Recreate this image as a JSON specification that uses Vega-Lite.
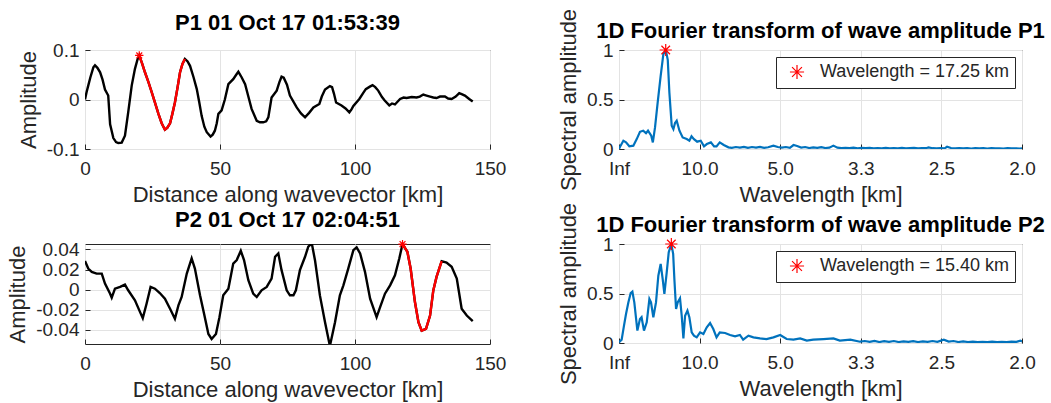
{
  "$schema": "https://vega.github.io/schema/vega-lite/v6.json",
  "background": "white",
  "padding": {"left": 6, "top": 7, "right": 5, "bottom": 5},
  "bounds": "flush",
  "columns": 2,
  "spacing": {"row": 95, "column": 129},
  "resolve": {"scale": {"color": "independent"}, "legend": {"color": "independent"}},
  "datasets": {
    "p1": [
      {"d":0,"a":0},{"d":0.6,"a":0.015},{"d":1.2,"a":0.028},{"d":2.0,"a":0.045},{"d":3.1,"a":0.065},{"d":3.7,"a":0.069},{"d":4.6,"a":0.064},{"d":5.6,"a":0.055},{"d":6.5,"a":0.04},{"d":7.4,"a":0.02},{"d":8.6,"a":0.008},{"d":9.3,"a":-0.05},{"d":10.5,"a":-0.078},{"d":11.5,"a":-0.086},{"d":12.3,"a":-0.088},{"d":13.6,"a":-0.087},{"d":14.8,"a":-0.073},{"d":16.0,"a":-0.026},{"d":17.3,"a":0.028},{"d":18.5,"a":0.062},{"d":19.4,"a":0.08},
      {"d":20.1,"a":0.089,"r":1},{"d":21.2,"a":0.072,"r":1},{"d":22.2,"a":0.055,"r":1},{"d":23.5,"a":0.035,"r":1},{"d":24.7,"a":0.015,"r":1},{"d":26.0,"a":-0.008,"r":1},{"d":27.2,"a":-0.029,"r":1},{"d":28.4,"a":-0.048,"r":1},{"d":29.6,"a":-0.061,"r":1},{"d":30.5,"a":-0.057,"r":1},{"d":31.5,"a":-0.048,"r":1},{"d":32.4,"a":-0.028,"r":1},{"d":33.3,"a":-0.006,"r":1},{"d":34.3,"a":0.025,"r":1},{"d":35.2,"a":0.055,"r":1},{"d":36.1,"a":0.072,"r":1},{"d":37.0,"a":0.082,"r":1},
      {"d":38.0,"a":0.077},{"d":38.9,"a":0.068},{"d":40.2,"a":0.045},{"d":41.4,"a":0.021},{"d":42.3,"a":-0.005},{"d":43.2,"a":-0.033},{"d":44.2,"a":-0.055},{"d":45.1,"a":-0.066},{"d":46.5,"a":-0.075},{"d":47.3,"a":-0.071},{"d":48.1,"a":-0.063},{"d":48.8,"a":-0.048},{"d":49.4,"a":-0.029},{"d":50.6,"a":-0.022},{"d":51.8,"a":0.0},{"d":53.1,"a":0.031},{"d":54.9,"a":0.041},{"d":56.0,"a":0.05},{"d":56.8,"a":0.056},{"d":58.0,"a":0.045},{"d":59.3,"a":0.031},{"d":60.5,"a":0.006},{"d":61.7,"a":-0.019},{"d":63.6,"a":-0.043},{"d":64.8,"a":-0.046},{"d":66.0,"a":-0.046},{"d":67.1,"a":-0.044},{"d":67.9,"a":-0.036},{"d":69.1,"a":0.004},{"d":71.0,"a":0.018},{"d":72.0,"a":0.035},{"d":72.8,"a":0.046},{"d":73.6,"a":0.044},{"d":74.8,"a":0.03},{"d":75.9,"a":0.008},{"d":78.4,"a":-0.016},{"d":80.0,"a":-0.028},{"d":81.5,"a":-0.036},{"d":83.0,"a":-0.027},{"d":84.6,"a":-0.016},{"d":86.8,"a":-0.009},{"d":87.7,"a":0.006},{"d":88.9,"a":0.02},{"d":90.7,"a":0.027},{"d":91.5,"a":0.025},{"d":92.2,"a":0.012},{"d":93,"a":-0.006},{"d":95,"a":-0.012},{"d":96.5,"a":-0.018},{"d":97.9,"a":-0.026},{"d":98.7,"a":-0.02},{"d":99.4,"a":-0.013},{"d":101.6,"a":0.001},{"d":103,"a":0.013},{"d":104,"a":0.021},{"d":105.5,"a":0.026},{"d":106.5,"a":0.029},{"d":107.5,"a":0.025},{"d":108.6,"a":0.018},{"d":110,"a":0.005},{"d":111,"a":-0.002},{"d":112.7,"a":-0.012},{"d":113.7,"a":-0.008},{"d":114.8,"a":-0.01},{"d":116.7,"a":0.001},{"d":118,"a":0.004},{"d":119.1,"a":0.003},{"d":121,"a":0.005},{"d":122.8,"a":0.004},{"d":124,"a":0.006},{"d":125.3,"a":0.01},{"d":126.5,"a":0.008},{"d":127.8,"a":0.006},{"d":129,"a":0.004},{"d":130.2,"a":0.003},{"d":131.5,"a":0.006},{"d":133.3,"a":0.006},{"d":134.5,"a":0.002},{"d":135.8,"a":0.001},{"d":137.3,"a":0.006},{"d":138.6,"a":0.013},{"d":139.5,"a":0.011},{"d":140.7,"a":0.008},{"d":142.3,"a":0.001},{"d":143.6,"a":-0.004}
    ],
    "p2": [
      {"d":0,"a":0.0285},{"d":1.2,"a":0.021},{"d":2.5,"a":0.0177},{"d":4.3,"a":0.016},{"d":6.2,"a":0.016},{"d":7.4,"a":0.006},{"d":9.3,"a":-0.004},{"d":9.9,"a":-0.008},{"d":11.1,"a":0.001},{"d":13,"a":0.0027},{"d":14.8,"a":0.005},{"d":16.0,"a":-0.0006},{"d":18.5,"a":-0.0106},{"d":20.4,"a":-0.0223},{"d":21.4,"a":-0.0283},{"d":22.8,"a":-0.014},{"d":24.3,"a":0.0027},{"d":25.9,"a":0.001},{"d":27.7,"a":-0.0033},{"d":29.6,"a":-0.009},{"d":31.5,"a":-0.019},{"d":33.3,"a":-0.029},{"d":34.6,"a":-0.0156},{"d":35.8,"a":-0.0073},{"d":37.7,"a":0.016},{"d":39.5,"a":0.031},{"d":40.7,"a":0.021},{"d":42.6,"a":-0.0056},{"d":44.1,"a":-0.024},{"d":45.7,"a":-0.044},{"d":46.9,"a":-0.049},{"d":48.5,"a":-0.044},{"d":49.8,"a":-0.0273},{"d":51.2,"a":-0.0056},{"d":53.1,"a":0.001},{"d":54.9,"a":0.026},{"d":56.2,"a":0.0294},{"d":57.7,"a":0.0387},{"d":58.9,"a":0.0294},{"d":60.5,"a":0.0094},{"d":62.3,"a":-0.004},{"d":63.6,"a":-0.0073},{"d":65.4,"a":-0.0006},{"d":67.3,"a":0.0027},{"d":69.1,"a":0.011},{"d":70.4,"a":0.0327},{"d":71.6,"a":0.036},{"d":72.8,"a":0.0194},{"d":74.7,"a":-0.0006},{"d":75.9,"a":-0.0056},{"d":77.2,"a":-0.0056},{"d":78.1,"a":-0.0006},{"d":79.6,"a":0.0194},{"d":81.5,"a":0.0327},{"d":82.7,"a":0.0427},{"d":84.0,"a":0.046},{"d":85.2,"a":0.029},{"d":87,"a":-0.0057},{"d":88.9,"a":-0.0323},{"d":90.7,"a":-0.056},{"d":92.6,"a":-0.0323},{"d":94.4,"a":-0.0057},{"d":95.7,"a":0.0043},{"d":97.5,"a":0.021},{"d":99.4,"a":0.0393},{"d":100.6,"a":0.042},{"d":101.9,"a":0.036},{"d":103.7,"a":0.0177},{"d":105.6,"a":-0.009},{"d":108,"a":-0.0273},{"d":109.3,"a":-0.0173},{"d":111.1,"a":-0.004},{"d":113,"a":0.0043},{"d":114.8,"a":0.0143},{"d":116.4,"a":0.031},
      {"d":117.6,"a":0.0453,"r":1},{"d":119.4,"a":0.0377,"r":1},{"d":120.6,"a":0.021,"r":1},{"d":122.2,"a":-0.0123,"r":1},{"d":123.5,"a":-0.0323,"r":1},{"d":124.7,"a":-0.0407,"r":1},{"d":126.3,"a":-0.039,"r":1},{"d":127.8,"a":-0.0257,"r":1},{"d":129,"a":-0.0007,"r":1},{"d":130.2,"a":0.0127,"r":1},{"d":132.1,"a":0.0283,"r":1},
      {"d":133.9,"a":0.027},{"d":135.8,"a":0.0227},{"d":137.7,"a":0.011},{"d":139.5,"a":-0.019},{"d":141.4,"a":-0.0257},{"d":143.6,"a":-0.0313}
    ],
    "s1": [
      {"f":0,"a":0},{"f":0.002,"a":0.034},{"f":0.0054,"a":0.084},{"f":0.0087,"a":0.067},{"f":0.0128,"a":0.027},{"f":0.0178,"a":0.034},{"f":0.022,"a":0.1},{"f":0.026,"a":0.174},{"f":0.03,"a":0.185},{"f":0.0335,"a":0.16},{"f":0.036,"a":0.185},{"f":0.04,"a":0.134},{"f":0.042,"a":0.067},{"f":0.0447,"a":0.218},{"f":0.048,"a":0.47},{"f":0.0517,"a":0.738},{"f":0.055,"a":0.956},{"f":0.058,"a":1.0},{"f":0.0605,"a":0.9},{"f":0.0625,"a":0.57},{"f":0.0654,"a":0.235},{"f":0.0675,"a":0.2},{"f":0.0695,"a":0.262},{"f":0.0716,"a":0.285},{"f":0.075,"a":0.185},{"f":0.079,"a":0.117},{"f":0.084,"a":0.1},{"f":0.0873,"a":0.084},{"f":0.09,"a":0.128},{"f":0.093,"a":0.1},{"f":0.097,"a":0.074},{"f":0.1014,"a":0.084},{"f":0.1055,"a":0.027},{"f":0.109,"a":0.05},{"f":0.114,"a":0.067},{"f":0.118,"a":0.027},{"f":0.121,"a":0.027},{"f":0.125,"a":0.067},{"f":0.13,"a":0.04},{"f":0.1358,"a":0.017},
      {"f":0.14,"a":0.012},{"f":0.145,"a":0.02},{"f":0.15,"a":0.015},{"f":0.155,"a":0.022},{"f":0.16,"a":0.012},{"f":0.165,"a":0.02},{"f":0.17,"a":0.014},{"f":0.175,"a":0.022},{"f":0.18,"a":0.012},{"f":0.185,"a":0.018},{"f":0.1916,"a":0.034},{"f":0.197,"a":0.02},{"f":0.202,"a":0.014},{"f":0.207,"a":0.02},{"f":0.212,"a":0.012},{"f":0.2165,"a":0.04},{"f":0.221,"a":0.03},{"f":0.226,"a":0.015},{"f":0.231,"a":0.02},{"f":0.236,"a":0.01},{"f":0.241,"a":0.016},{"f":0.246,"a":0.012},{"f":0.251,"a":0.018},{"f":0.256,"a":0.01},{"f":0.261,"a":0.014},{"f":0.266,"a":0.034},{"f":0.271,"a":0.014},{"f":0.276,"a":0.008},{"f":0.281,"a":0.012},{"f":0.286,"a":0.008},{"f":0.291,"a":0.014},{"f":0.296,"a":0.006},{"f":0.301,"a":0.012},{"f":0.306,"a":0.008},{"f":0.311,"a":0.012},{"f":0.316,"a":0.006},{"f":0.321,"a":0.01},{"f":0.326,"a":0.007},{"f":0.331,"a":0.012},{"f":0.336,"a":0.006},{"f":0.341,"a":0.01},{"f":0.346,"a":0.007},{"f":0.351,"a":0.011},{"f":0.356,"a":0.006},{"f":0.361,"a":0.009},{"f":0.366,"a":0.012},{"f":0.371,"a":0.007},{"f":0.376,"a":0.01},{"f":0.381,"a":0.008},{"f":0.384,"a":0.017},{"f":0.389,"a":0.008},{"f":0.394,"a":0.006},{"f":0.399,"a":0.01},{"f":0.404,"a":0.007},{"f":0.407,"a":0.023},{"f":0.412,"a":0.01},{"f":0.417,"a":0.006},{"f":0.422,"a":0.009},{"f":0.427,"a":0.006},{"f":0.432,"a":0.008},{"f":0.437,"a":0.005},{"f":0.442,"a":0.008},{"f":0.447,"a":0.006},{"f":0.452,"a":0.008},{"f":0.457,"a":0.005},{"f":0.462,"a":0.008},{"f":0.467,"a":0.006},{"f":0.472,"a":0.007},{"f":0.477,"a":0.005},{"f":0.482,"a":0.008},{"f":0.487,"a":0.006},{"f":0.492,"a":0.007},{"f":0.497,"a":0.005},{"f":0.5,"a":0.006}
    ],
    "s2": [
      {"f":0,"a":0.007},{"f":0.0033,"a":0.034},{"f":0.0062,"a":0.175},{"f":0.0087,"a":0.293},{"f":0.0116,"a":0.41},{"f":0.0145,"a":0.505},{"f":0.0166,"a":0.519},{"f":0.019,"a":0.41},{"f":0.0228,"a":0.125},{"f":0.026,"a":0.242},{"f":0.028,"a":0.26},{"f":0.031,"a":0.125},{"f":0.0344,"a":0.209},{"f":0.0377,"a":0.444},{"f":0.0397,"a":0.41},{"f":0.0426,"a":0.26},{"f":0.0459,"a":0.41},{"f":0.0488,"a":0.68},{"f":0.0517,"a":0.798},{"f":0.0542,"a":0.646},{"f":0.0563,"a":0.495},{"f":0.0592,"a":0.714},{"f":0.0617,"a":0.916},{"f":0.0649,"a":1.0},{"f":0.0672,"a":0.9},{"f":0.0687,"a":0.646},{"f":0.0708,"a":0.343},{"f":0.0728,"a":0.41},{"f":0.0757,"a":0.451},{"f":0.0778,"a":0.276},{"f":0.0799,"a":0.047},{"f":0.082,"a":0.276},{"f":0.0849,"a":0.327},{"f":0.0873,"a":0.26},{"f":0.0902,"a":0.108},{"f":0.093,"a":0.074},{"f":0.0964,"a":0.057},{"f":0.1006,"a":0.108},{"f":0.1047,"a":0.091},{"f":0.1089,"a":0.158},{"f":0.113,"a":0.202},{"f":0.117,"a":0.141},{"f":0.121,"a":0.057},{"f":0.125,"a":0.108},{"f":0.1316,"a":0.101},{"f":0.1378,"a":0.081},{"f":0.144,"a":0.067},{"f":0.15,"a":0.081},{"f":0.154,"a":0.034},{"f":0.1606,"a":0.074},{"f":0.1668,"a":0.057},{"f":0.175,"a":0.047},{"f":0.183,"a":0.04},{"f":0.1916,"a":0.057},{"f":0.2,"a":0.081},{"f":0.208,"a":0.04},{"f":0.2165,"a":0.034},{"f":0.2248,"a":0.047},{"f":0.233,"a":0.024},{"f":0.241,"a":0.034},{"f":0.2537,"a":0.04},{"f":0.266,"a":0.047},{"f":0.274,"a":0.024},{"f":0.287,"a":0.034},{"f":0.299,"a":0.013},
      {"f":0.305,"a":0.02},{"f":0.311,"a":0.012},{"f":0.317,"a":0.022},{"f":0.323,"a":0.01},{"f":0.329,"a":0.018},{"f":0.335,"a":0.012},{"f":0.341,"a":0.02},{"f":0.347,"a":0.01},{"f":0.353,"a":0.016},{"f":0.359,"a":0.012},{"f":0.365,"a":0.018},{"f":0.371,"a":0.01},{"f":0.377,"a":0.016},{"f":0.383,"a":0.012},{"f":0.389,"a":0.02},{"f":0.395,"a":0.012},{"f":0.403,"a":0.034},{"f":0.409,"a":0.015},{"f":0.415,"a":0.02},{"f":0.421,"a":0.01},{"f":0.427,"a":0.016},{"f":0.433,"a":0.01},{"f":0.439,"a":0.014},{"f":0.445,"a":0.008},{"f":0.451,"a":0.012},{"f":0.457,"a":0.008},{"f":0.463,"a":0.014},{"f":0.469,"a":0.01},{"f":0.475,"a":0.012},{"f":0.481,"a":0.008},{"f":0.487,"a":0.014},{"f":0.493,"a":0.012},{"f":0.498,"a":0.024},{"f":0.5,"a":0.015}
    ],
    "pk1": [{"d":20.1,"a":0.089}],
    "pk2": [{"d":117.6,"a":0.0453}],
    "st1": [{"f":0.05797,"a":1,"label":"Wavelength = 17.25 km"}],
    "st2": [{"f":0.06494,"a":1,"label":"Wavelength = 15.40 km"}]
  },
  "concat": [
    {
      "width": 405, "height": 99,
      "title": "P1 01 Oct 17 01:53:39",
      "data": {"name": "p1"},
      "encoding": {
        "x": {"field": "d", "type": "quantitative", "scale": {"domain": [0, 150], "nice": false}, "axis": {"values": [0, 50, 100, 150], "title": "Distance along wavevector [km]"}},
        "y": {"field": "a", "type": "quantitative", "scale": {"domain": [-0.1, 0.1], "nice": false}, "axis": {"values": [-0.1, 0, 0.1], "title": "Amplitude", "labelExpr": "datum.value == 0 ? '0' : (datum.value < 0 ? '-' : '') + format(abs(datum.value), '.1f')"}}
      },
      "layer": [
        {"mark": {"type": "line", "color": "black", "strokeWidth": 2.4, "clip": true}},
        {"transform": [{"filter": "datum.r == 1"}], "mark": {"type": "line", "color": "#ff0000", "strokeWidth": 2.4, "clip": true}},
        {"data": {"name": "pk1"}, "mark": {"type": "point", "shape": "M-1,0L1,0M0,-1L0,1M-0.7,-0.7L0.7,0.7M-0.7,0.7L0.7,-0.7", "filled": false, "color": "#ff0000", "strokeWidth": 1.2, "size": 70, "opacity": 1}}
      ]
    },
    {
      "width": 403, "height": 99,
      "title": {"text": "1D Fourier transform of wave amplitude P1", "offset": -35},
      "layer": [
        {"data": {"name": "s1"}, "mark": {"type": "line", "color": "#0072BD", "strokeWidth": 2.2, "clip": true},
         "encoding": {
           "x": {"field": "f", "type": "quantitative", "scale": {"domain": [0, 0.5], "nice": false}, "axis": {"values": [0, 0.1, 0.2, 0.3, 0.4, 0.5], "title": "Wavelength [km]", "labelExpr": "datum.value == 0 ? 'Inf' : format(1 / datum.value, '.1f')"}},
           "y": {"field": "a", "type": "quantitative", "scale": {"domain": [0, 1], "nice": false}, "axis": {"values": [0, 0.5, 1], "format": "~g", "title": "Spectral amplitude"}}
         }},
        {"data": {"name": "st1"}, "mark": {"type": "point", "shape": "M-1,0L1,0M0,-1L0,1M-0.7,-0.7L0.7,0.7M-0.7,0.7L0.7,-0.7", "filled": false, "strokeWidth": 1.2, "size": 150, "opacity": 1},
         "encoding": {
           "x": {"field": "f", "type": "quantitative"},
           "y": {"field": "a", "type": "quantitative"},
           "color": {"field": "label", "type": "nominal", "scale": {"range": ["#ff0000"]}, "legend": {"orient": "top-right", "offset": 7, "title": null}}
         }}
      ]
    },
    {
      "width": 405, "height": 100,
      "title": "P2 01 Oct 17 02:04:51",
      "data": {"name": "p2"},
      "encoding": {
        "x": {"field": "d", "type": "quantitative", "scale": {"domain": [0, 150], "nice": false}, "axis": {"values": [0, 50, 100, 150], "title": "Distance along wavevector [km]"}},
        "y": {"field": "a", "type": "quantitative", "scale": {"domain": [-0.054, 0.0454], "nice": false, "zero": false}, "axis": {"values": [-0.04, -0.02, 0, 0.02, 0.04], "title": "Amplitude", "labelExpr": "datum.value == 0 ? '0' : (datum.value < 0 ? '-' : '') + format(abs(datum.value), '.2f')"}}
      },
      "layer": [
        {"mark": {"type": "line", "color": "black", "strokeWidth": 2.4, "clip": true}},
        {"transform": [{"filter": "datum.r == 1"}], "mark": {"type": "line", "color": "#ff0000", "strokeWidth": 2.4, "clip": true}},
        {"data": {"name": "pk2"}, "mark": {"type": "point", "shape": "M-1,0L1,0M0,-1L0,1M-0.7,-0.7L0.7,0.7M-0.7,0.7L0.7,-0.7", "filled": false, "color": "#ff0000", "strokeWidth": 1.2, "size": 70, "opacity": 1}}
      ]
    },
    {
      "width": 403, "height": 99,
      "title": {"text": "1D Fourier transform of wave amplitude P2", "offset": -35},
      "layer": [
        {"data": {"name": "s2"}, "mark": {"type": "line", "color": "#0072BD", "strokeWidth": 2.2, "clip": true},
         "encoding": {
           "x": {"field": "f", "type": "quantitative", "scale": {"domain": [0, 0.5], "nice": false}, "axis": {"values": [0, 0.1, 0.2, 0.3, 0.4, 0.5], "title": "Wavelength [km]", "labelExpr": "datum.value == 0 ? 'Inf' : format(1 / datum.value, '.1f')"}},
           "y": {"field": "a", "type": "quantitative", "scale": {"domain": [0, 1], "nice": false}, "axis": {"values": [0, 0.5, 1], "format": "~g", "title": "Spectral amplitude"}}
         }},
        {"data": {"name": "st2"}, "mark": {"type": "point", "shape": "M-1,0L1,0M0,-1L0,1M-0.7,-0.7L0.7,0.7M-0.7,0.7L0.7,-0.7", "filled": false, "strokeWidth": 1.2, "size": 150, "opacity": 1},
         "encoding": {
           "x": {"field": "f", "type": "quantitative"},
           "y": {"field": "a", "type": "quantitative"},
           "color": {"field": "label", "type": "nominal", "scale": {"range": ["#ff0000"]}, "legend": {"orient": "top-right", "offset": 7, "title": null}}
         }}
      ]
    }
  ],
  "config": {
    "font": "Liberation Sans",
    "view": {"stroke": "#262626", "strokeWidth": 1},
    "axis": {
      "domain": false, "ticks": true, "tickSize": -5, "tickColor": "#262626", "tickWidth": 1,
      "grid": true, "gridColor": "#e3e3e3", "gridWidth": 1,
      "labelFont": "Liberation Sans", "labelFontSize": 19, "labelColor": "#262626", "labelPadding": 11,
      "titleFont": "Liberation Sans", "titleFontSize": 22, "titleFontWeight": "normal", "titleColor": "#262626",
      "labelFlush": false, "labelOverlap": false
    },
    "axisX": {"labelPadding": 15, "titlePadding": 6},
    "axisY": {"titlePadding": 6},
    "title": {"font": "Liberation Sans", "fontSize": 22, "fontWeight": "bold", "color": "#000000", "frame": "group", "anchor": "middle", "offset": 6},
    "legend": {
      "labelFont": "Liberation Sans", "labelFontSize": 18, "labelColor": "#262626", "labelLimit": 400,
      "strokeColor": "#262626", "fillColor": "white", "padding": 6, "cornerRadius": 0,
      "symbolType": "M-1,0L1,0M0,-1L0,1M-0.7,-0.7L0.7,0.7M-0.7,0.7L0.7,-0.7",
      "symbolSize": 200, "symbolStrokeWidth": 1.2, "symbolOffset": 6, "labelOffset": 14
    }
  }
}
